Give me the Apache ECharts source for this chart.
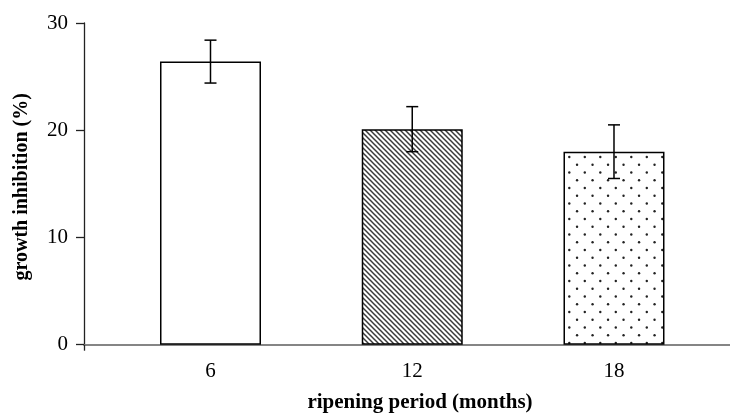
<!DOCTYPE html>
<html>
<head>
<meta charset="utf-8">
<script src="https://cdn.jsdelivr.net/npm/echarts@6/dist/echarts.min.js"></script>
<style>
  html, body { margin: 0; padding: 0; background: #fff; }
  #chart { width: 730px; height: 414px; }
</style>
</head>
<body>
<div id="chart"></div>
<script>
// Ripening period categories and measured growth inhibition
const categories = ['6', '12', '18'];
const inhibition = [26.4, 20.1, 18.0];
const inhibitionErr = [2.0, 2.1, 2.5];
const yTicks = [0, 10, 20, 30];

const FONT = '"Liberation Serif", "Times New Roman", serif';

// Diagonal hatch fill ("\" lines)
function hatchPattern() {
  const s = 5;
  const c = document.createElement('canvas');
  c.width = s; c.height = s;
  const g = c.getContext('2d');
  g.fillStyle = '#fff';
  g.fillRect(0, 0, s, s);
  g.strokeStyle = '#3a3a3a';
  g.lineWidth = 1.5;
  for (const k of [-s, 0, s]) {
    g.beginPath();
    g.moveTo(k - 1, -1);
    g.lineTo(k + s + 1, s + 1);
    g.stroke();
  }
  return { image: c, repeat: 'repeat' };
}

// Staggered dot fill
function dotPattern() {
  const s = 31, h = s / 2, q = s / 4;
  const c = document.createElement('canvas');
  c.width = s; c.height = s;
  const g = c.getContext('2d');
  g.fillStyle = '#fff';
  g.fillRect(0, 0, s, s);
  g.fillStyle = '#222';
  const ox = 11.3, oy = 2;
  const pts = [];
  for (const dx of [0, h]) for (const dy of [0, h]) {
    pts.push([ox + dx, oy + dy]);
    pts.push([ox + dx + q, oy + dy + q]);
  }
  for (const [x, y] of pts) {
    for (const wx of [-s, 0, s]) for (const wy of [-s, 0, s]) {
      g.beginPath();
      g.arc(x + wx, y + wy, 1.2, 0, Math.PI * 2);
      g.fill();
    }
  }
  return { image: c, repeat: 'repeat' };
}

const fills = ['#ffffff', hatchPattern(), dotPattern()];

const xMin = 0.373, xMax = 3.575;
const positions = categories.map((_, i) => i + 1);

const chart = echarts.init(document.getElementById('chart'), null, { renderer: 'canvas' });

chart.setOption({
  animation: false,
  backgroundColor: '#fff',
  grid: { left: 84, right: 0, top: 23, bottom: 69.3, containLabel: false, outerBoundsMode: 'none' },
  xAxis: {
    type: 'value',
    min: xMin,
    max: xMax,
    splitLine: { show: false },
    axisLine: { show: true, lineStyle: { color: '#858585', width: 2 } },
    axisTick: { show: true, customValues: [xMin], length: 6, lineStyle: { color: '#222', width: 1.3 } },
    axisLabel: {
      customValues: positions,
      formatter: v => categories[Math.round(v) - 1],
      fontFamily: FONT, fontSize: 21, color: '#000', margin: 16
    },
    name: 'ripening period (months)',
    nameLocation: 'middle',
    nameGap: 47,
    nameTextStyle: { fontFamily: FONT, fontSize: 21, fontWeight: 'bold', color: '#000', padding: [0, 0, 0, 26] }
  },
  yAxis: {
    type: 'value',
    min: yTicks[0],
    max: yTicks[yTicks.length - 1],
    interval: yTicks[1] - yTicks[0],
    splitLine: { show: false },
    axisLine: { show: true, lineStyle: { color: '#222', width: 1.3 } },
    axisTick: { show: true, inside: false, length: 8, lineStyle: { color: '#222', width: 1.3 } },
    axisLabel: { fontFamily: FONT, fontSize: 21, color: '#000', margin: 16 },
    name: 'growth inhibition (%)',
    nameLocation: 'middle',
    nameRotate: 90,
    nameGap: 52,
    nameTextStyle: { fontFamily: FONT, fontSize: 20, fontWeight: 'bold', color: '#000', padding: [0, 6, 0, 0] }
  },
  series: [
    {
      type: 'bar',
      barWidth: 101,
      data: inhibition.map((v, i) => ({
        value: [positions[i], v],
        itemStyle: { color: fills[i], borderColor: '#000', borderWidth: 1.5 }
      })),
      z: 2
    },
    {
      type: 'custom',
      z: 5,
      data: inhibition.map((v, i) => [positions[i], v, inhibitionErr[i]]),
      renderItem: (params, api) => {
        const x = api.value(0), v = api.value(1), e = api.value(2);
        const hi = api.coord([x, v + e]);
        const lo = api.coord([x, v - e]);
        const cap = 6;
        const style = { stroke: '#000', lineWidth: 1.5 };
        return {
          type: 'group',
          children: [
            { type: 'line', shape: { x1: hi[0], y1: hi[1], x2: lo[0], y2: lo[1] }, style },
            { type: 'line', shape: { x1: hi[0] - cap, y1: hi[1], x2: hi[0] + cap, y2: hi[1] }, style },
            { type: 'line', shape: { x1: lo[0] - cap, y1: lo[1], x2: lo[0] + cap, y2: lo[1] }, style }
          ]
        };
      }
    }
  ]
});
</script>
</body>
</html>
